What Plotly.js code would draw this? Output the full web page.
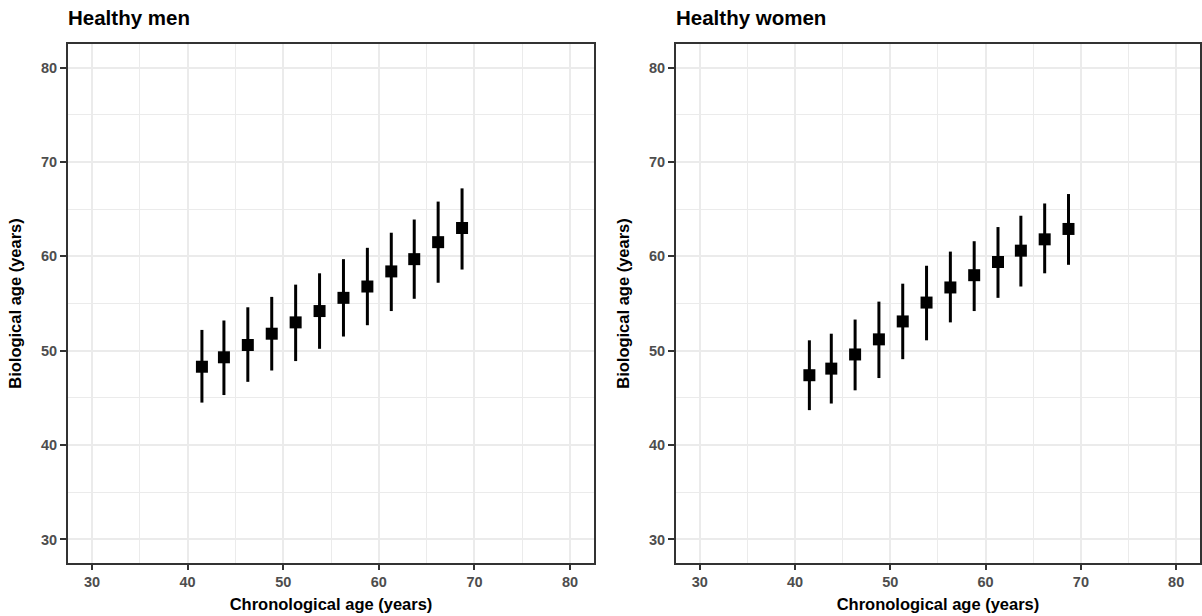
<!DOCTYPE html>
<html>
<head>
<meta charset="utf-8">
<script src="https://cdn.plot.ly/plotly-3.0.1.min.js"></script>
<style>html,body{margin:0;padding:0;background:#fff;}#chart{width:1202px;height:616px;}</style>
</head>
<body>
<div id="chart"></div>
<script>
// Chronological age (x) for both panels
const chronoAge = [41.5, 43.8, 46.3, 48.8, 51.3, 53.8, 56.3, 58.8, 61.3, 63.7, 66.2, 68.7];

// Healthy men
const menBio   = [48.3, 49.3, 50.6, 51.8, 53.0, 54.2, 55.6, 56.8, 58.4, 59.7, 61.5, 63.0];
const menUpper = [52.2, 53.2, 54.6, 55.7, 57.0, 58.2, 59.7, 60.9, 62.5, 63.9, 65.8, 67.2];
const menLower = [44.5, 45.3, 46.7, 47.9, 48.9, 50.2, 51.5, 52.7, 54.2, 55.5, 57.2, 58.6];

// Healthy women
const womenBio   = [47.4, 48.1, 49.6, 51.2, 53.1, 55.1, 56.7, 58.0, 59.4, 60.6, 61.8, 62.9];
const womenUpper = [51.1, 51.8, 53.3, 55.2, 57.1, 59.0, 60.5, 61.6, 63.1, 64.3, 65.6, 66.6];
const womenLower = [43.7, 44.4, 45.8, 47.1, 49.1, 51.1, 53.0, 54.2, 55.6, 56.8, 58.2, 59.1];

const panelTitles = ["Healthy men", "Healthy women"];
const xTitle = "Chronological age (years)";
const yTitle = "Biological age (years)";
const tickVals = [30, 40, 50, 60, 70, 80];
const minorVals = [35, 45, 55, 65, 75];

function trace(y, up, lo, xa, ya) {
  return {
    type: 'scatter', mode: 'markers', x: chronoAge, y: y,
    xaxis: xa, yaxis: ya,
    marker: {symbol: 'square', size: 12, color: '#000'},
    error_y: {type: 'data', symmetric: false,
      array: up.map((v, i) => v - y[i]),
      arrayminus: lo.map((v, i) => y[i] - v),
      color: '#000', thickness: 3, width: 0},
    showlegend: false, hoverinfo: 'x+y'
  };
}

const FAM = 'Liberation Sans, Arial, sans-serif';
const tickFont = {family: FAM, size: 14.5, color: '#4d4d4d', weight: 'bold'};
const titleFont = {family: FAM, size: 16.5, color: '#000', weight: 'bold'};

function axis(domain, anchor, isX) {
  return {
    domain: domain, anchor: anchor, range: [27.5, 82.5],
    tickmode: 'array', tickvals: tickVals,
    showline: true, mirror: true, linecolor: '#333333', linewidth: 2,
    ticks: 'outside', ticklen: isX ? 5 : 6, tickwidth: 2, tickcolor: '#333333',
    showgrid: true, gridcolor: '#ebebeb', gridwidth: 2,
    minor: {tickmode: 'array', tickvals: minorVals, showgrid: true, gridcolor: '#ebebeb', gridwidth: 1, ticks: ''},
    zeroline: false, tickfont: tickFont,
    title: {text: isX ? xTitle : yTitle, font: titleFont, standoff: isX ? 9 : 15},
    automargin: false
  };
}

const yDom = [0.0860, 0.9286];
const titleFontBig = {family: FAM, size: 20.5, color: '#000', weight: 'bold'};
const layout = {
  width: 1202, height: 616,
  margin: {l: 0, r: 0, t: 0, b: 0},
  paper_bgcolor: '#fff', plot_bgcolor: '#fff',
  xaxis: axis([0.0566, 0.4942], 'y', true),
  yaxis: axis(yDom, 'x', false),
  xaxis2: axis([0.5624, 0.9983], 'y2', true),
  yaxis2: axis(yDom, 'x2', false),
  annotations: [
    {text: panelTitles[0], xref: 'paper', yref: 'paper', x: 0.0566, y: 1 - 26/616, xanchor: 'left', yanchor: 'bottom', showarrow: false, yshift: -5, xshift: -2, font: titleFontBig},
    {text: panelTitles[1], xref: 'paper', yref: 'paper', x: 0.5624, y: 1 - 26/616, xanchor: 'left', yanchor: 'bottom', showarrow: false, yshift: -5, xshift: -2, font: titleFontBig}
  ]
};

Plotly.newPlot('chart', [
  trace(menBio, menUpper, menLower, 'x', 'y'),
  trace(womenBio, womenUpper, womenLower, 'x2', 'y2')
], layout, {displayModeBar: false, staticPlot: true});
</script>
</body>
</html>
